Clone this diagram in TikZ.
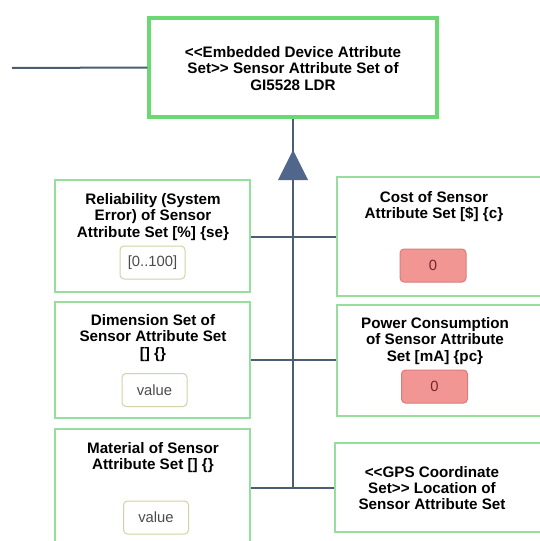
\documentclass[tikz,border=0pt]{standalone}
\usepackage{fontspec}
\setmainfont{Liberation Sans}
\definecolor{topgreen}{RGB}{108,216,116}
\definecolor{sidegreen}{RGB}{150,222,156}
\definecolor{wire}{RGB}{76,92,116}
\definecolor{tri}{RGB}{80,102,138}
\definecolor{valedge}{RGB}{214,208,168}
\definecolor{valtext}{RGB}{75,75,75}
\definecolor{redfill}{RGB}{242,150,148}
\definecolor{rededge}{RGB}{212,128,122}
\definecolor{redtext}{RGB}{110,40,40}
% angle-bracket stereotype marks, kept apart so they are not merged into guillemets
\newcommand{\ltag}{\textless\kern0pt\textless\kern0pt}
\newcommand{\rtag}{\textgreater\kern0pt\textgreater\kern0pt}
\tikzset{
  topbox/.style={draw=topgreen, line width=3.2pt, fill=white, inner sep=0pt},
  sidebox/.style={draw=sidegreen, line width=2pt, fill=white, inner sep=0pt},
  label/.style={align=center, font=\fontsize{15.2}{16.3}\selectfont\bfseries, text=black, inner sep=0pt},
  valbox/.style={draw=valedge, line width=1pt, rounded corners=4pt, fill=white,
    minimum width=65pt, minimum height=33pt, inner sep=0pt,
    font=\fontsize{14.8}{16}\selectfont, text=valtext},
  redbox/.style={draw=rededge, line width=1pt, rounded corners=4pt, fill=redfill,
    minimum width=66pt, minimum height=33pt, inner sep=0pt,
    font=\fontsize{14.8}{16}\selectfont, text=redtext},
  wireline/.style={draw=wire, line width=2pt}
}
\begin{document}
\begin{tikzpicture}[x=1pt, y=-1pt]
\useasboundingbox (0,0) rectangle (540,541);
\clip (0,0) rectangle (540,541);
\fill[white] (0,0) rectangle (540,541);

% parent attribute set
\node[topbox, minimum width=288pt, minimum height=99pt] (top) at (293,67.5) {};
\node[label] (topt) at (293,68.5) {\ltag Embedded Device Attribute\\Set\rtag{} Sensor Attribute Set of\\GI5528 LDR};
\coordinate (inlet) at (12,68);
\draw[wireline] (inlet) -- (top.west);

% left column
\node[sidebox, minimum width=195pt, minimum height=112pt] (lb1) at (152.5,236) {};
\node[label] (lb1t) at (153,217) {Reliability (System\\Error) of Sensor\\Attribute Set [\%] \{se\}};
\node[valbox] (lb1v) at (152.5,262.5) {[0..100]};

\node[sidebox, minimum width=195pt, minimum height=116pt] (lb2) at (152.5,360) {};
\node[label] (lb2t) at (153,338) {Dimension Set of\\Sensor Attribute Set\\{[]} \{\}};
\node[valbox] (lb2v) at (154.5,390) {value};

\node[sidebox, minimum width=195pt, minimum height=118pt] (lb3) at (152.5,488) {};
\node[label] (lb3t) at (153,457.5) {Material of Sensor\\Attribute Set {[]} \{\}};
\node[valbox] (lb3v) at (156,517.5) {value};

% right column
\node[sidebox, minimum width=223pt, minimum height=119pt] (rb1) at (448.5,236.5) {};
\node[label] (rb1t) at (434,206.5) {Cost of Sensor\\Attribute Set [\$] \{c\}};
\node[redbox] (rb1v) at (433,265.5) {0};

\node[sidebox, minimum width=223pt, minimum height=111pt] (rb2) at (448.5,360.5) {};
\node[label] (rb2t) at (435,341) {Power Consumption\\of Sensor Attribute\\Set [mA] \{pc\}};
\node[redbox] (rb2v) at (434.5,386.5) {0};

\node[sidebox, minimum width=225pt, minimum height=89pt] (rb3) at (447.5,487.5) {};
\node[label] (rb3t) at (432,488) {\ltag GPS Coordinate\\Set\rtag{} Location of\\Sensor Attribute Set};

% generalisation spine with filled triangle head
\coordinate (spineend) at (293,488);
\draw[wireline] (top.south) -- (spineend);
\coordinate (tiptop) at (293,150);
\fill[tri] (tiptop) -- (308,180) -- (278,180) -- cycle;

% branches into the spine
\draw[wireline] (lb1.east |- 0,237) -- (rb1.west |- 0,237);
\draw[wireline] (lb2.east) -- (rb2.west |- lb2.east);
\draw[wireline] (lb3.east) -- (rb3.west |- lb3.east);
\end{tikzpicture}
\end{document}
